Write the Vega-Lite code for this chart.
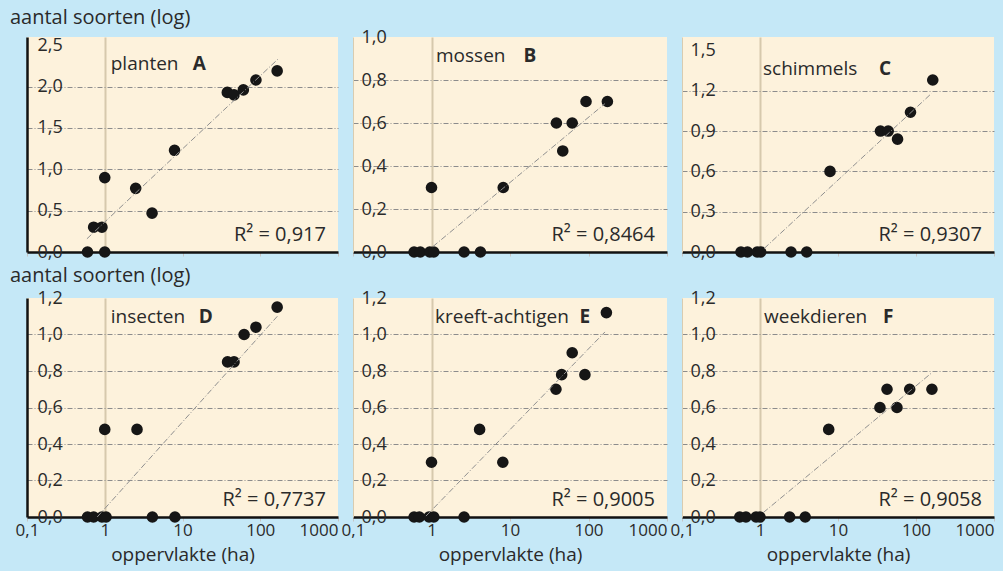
{
  "$schema": "https://vega.github.io/schema/vega-lite/v6.json",
  "background": "#c5e8f7",
  "padding": {"left": 10, "top": 8, "right": 9, "bottom": 9},
  "autosize": {"type": "pad"},
  "datasets": {
    "pts": [
      {"p":"A","x":0.6,"y":0},{"p":"A","x":1.0,"y":0},{"p":"A","x":0.72,"y":0.3},{"p":"A","x":0.92,"y":0.3},{"p":"A","x":1.0,"y":0.9},{"p":"A","x":2.5,"y":0.77},{"p":"A","x":4.06,"y":0.47},{"p":"A","x":7.9,"y":1.23},{"p":"A","x":37.7,"y":1.93},{"p":"A","x":46,"y":1.9},{"p":"A","x":60.6,"y":1.96},{"p":"A","x":88,"y":2.08},{"p":"A","x":165,"y":2.19},
      {"p":"B","x":0.6,"y":0},{"p":"B","x":0.72,"y":0},{"p":"B","x":0.95,"y":0},{"p":"B","x":1.07,"y":0},{"p":"B","x":2.6,"y":0},{"p":"B","x":4.2,"y":0},{"p":"B","x":1.0,"y":0.3},{"p":"B","x":8.2,"y":0.3},{"p":"B","x":39,"y":0.6},{"p":"B","x":47,"y":0.47},{"p":"B","x":62,"y":0.6},{"p":"B","x":93,"y":0.7},{"p":"B","x":174,"y":0.7},
      {"p":"C","x":0.57,"y":0},{"p":"C","x":0.69,"y":0},{"p":"C","x":0.92,"y":0},{"p":"C","x":1.02,"y":0},{"p":"C","x":2.5,"y":0},{"p":"C","x":3.97,"y":0},{"p":"C","x":7.9,"y":0.6},{"p":"C","x":35,"y":0.9},{"p":"C","x":44,"y":0.9},{"p":"C","x":58,"y":0.84},{"p":"C","x":85,"y":1.04},{"p":"C","x":164,"y":1.28},
      {"p":"D","x":0.6,"y":0},{"p":"D","x":0.72,"y":0},{"p":"D","x":0.92,"y":0},{"p":"D","x":1.04,"y":0},{"p":"D","x":4.1,"y":0},{"p":"D","x":8.0,"y":0},{"p":"D","x":1.0,"y":0.48},{"p":"D","x":2.6,"y":0.48},{"p":"D","x":38,"y":0.85},{"p":"D","x":46,"y":0.85},{"p":"D","x":62,"y":1.0},{"p":"D","x":88,"y":1.04},{"p":"D","x":165,"y":1.15},
      {"p":"E","x":0.6,"y":0},{"p":"E","x":0.7,"y":0},{"p":"E","x":0.93,"y":0},{"p":"E","x":1.07,"y":0},{"p":"E","x":2.6,"y":0},{"p":"E","x":1.0,"y":0.3},{"p":"E","x":4.1,"y":0.48},{"p":"E","x":8.1,"y":0.3},{"p":"E","x":38.5,"y":0.7},{"p":"E","x":45.5,"y":0.78},{"p":"E","x":62,"y":0.9},{"p":"E","x":90,"y":0.78},{"p":"E","x":169,"y":1.12},
      {"p":"F","x":0.55,"y":0},{"p":"F","x":0.66,"y":0},{"p":"F","x":0.89,"y":0},{"p":"F","x":1.0,"y":0},{"p":"F","x":2.4,"y":0},{"p":"F","x":3.8,"y":0},{"p":"F","x":7.6,"y":0.48},{"p":"F","x":34.5,"y":0.6},{"p":"F","x":42.5,"y":0.7},{"p":"F","x":57,"y":0.6},{"p":"F","x":83,"y":0.7},{"p":"F","x":160,"y":0.7}
    ],
    "fit": [
      {"p":"A","x":0.59,"y":0.16},{"p":"A","x":168,"y":2.33},
      {"p":"B","x":1.04,"y":0.025},{"p":"B","x":162,"y":0.69},
      {"p":"C","x":1.13,"y":0.026},{"p":"C","x":158,"y":1.18},
      {"p":"D","x":0.8,"y":0.0},{"p":"D","x":166,"y":1.1},
      {"p":"E","x":0.85,"y":0.005},{"p":"E","x":162,"y":1.014},
      {"p":"F","x":1.1,"y":0.024},{"p":"F","x":158,"y":0.789}
    ],
    "lbl": [
      {"p":"A","name":"planten","letter":"A","r2":"R² = 0,917"},
      {"p":"B","name":"mossen","letter":"B","r2":"R² = 0,8464"},
      {"p":"C","name":"schimmels","letter":"C","r2":"R² = 0,9307"},
      {"p":"D","name":"insecten","letter":"D","r2":"R² = 0,7737"},
      {"p":"E","name":"kreeft-achtigen","letter":"E","r2":"R² = 0,9005"},
      {"p":"F","name":"weekdieren","letter":"F","r2":"R² = 0,9058"}
    ]
  },
  "columns": 3,
  "spacing": {"row": 46, "column": 15},
  "bounds": "flush",
  "align": "each",
  "concat": [
    {
      "width": 311, "height": 215,
      "title": {"text": "aantal soorten (log)", "anchor": "start", "frame": "group", "dx": -17, "offset": -8, "baseline": "alphabetic"},
      "layer": [
        {"data": {"name": "pts"}, "transform": [{"filter": "datum.p === 'A'"}], "mark": {"type": "circle", "size": 135, "color": "#161616", "opacity": 1},
          "encoding": {
            "x": {"field": "x", "type": "quantitative", "scale": {"type": "log", "domain": [0.1, 1000]},
              "axis": {"values": [0.1, 1, 10, 100, 1000], "tickCount": 10, "labels": false, "title": null, "grid": true, "gridColor": {"condition": {"test": "datum.value == 1", "value": "#d6c9ad"}, "value": "transparent"}, "gridWidth": 2, "ticks": true, "tickSize": 4, "tickColor": "#c4c4c4", "domainColor": "#111111", "domainWidth": 2.5}},
            "y": {"field": "y", "type": "quantitative", "scale": {"domain": [0, 2.5]},
              "axis": {"values": [0, 0.5, 1, 1.5, 2, 2.5], "tickCount": 10, "labelExpr": "replace(format(datum.value, '.1f'), '.', ',')", "title": null, "grid": true, "gridColor": {"condition": {"test": "datum.value == 0 || datum.value == 2.5", "value": "transparent"}, "value": "#8c8c8c"}, "gridDash": [5, 2, 1, 2], "gridWidth": 1, "ticks": false, "tickSize": 0, "labelAlign": "left", "labelPadding": -10, "labelBaseline": "middle", "labelFlush": false, "labelBound": false, "labelOverlap": false, "domainColor": "#111111", "domainWidth": 2.5}}
          }},
        {"data": {"name": "fit"}, "transform": [{"filter": "datum.p === 'A'"}], "mark": {"type": "line", "color": "#8f8f8f", "strokeWidth": 1, "strokeDash": [6, 2, 1, 2]},
          "encoding": {"x": {"field": "x", "type": "quantitative"}, "y": {"field": "y", "type": "quantitative"}}},
        {"data": {"name": "lbl"}, "transform": [{"filter": "datum.p === 'A'"}], "mark": {"type": "text", "align": "left", "baseline": "top", "dx": 6, "dy": 10, "fontSize": 19}, "encoding": {"x": {"datum": 1}, "y": {"datum": 2.5}, "text": {"field": "name"}}},
        {"data": {"name": "lbl"}, "transform": [{"filter": "datum.p === 'A'"}], "mark": {"type": "text", "align": "left", "baseline": "top", "dx": 88, "dy": 10, "fontSize": 19, "fontWeight": "bold"}, "encoding": {"x": {"datum": 1}, "y": {"datum": 2.5}, "text": {"field": "letter"}}},
        {"data": {"name": "lbl"}, "transform": [{"filter": "datum.p === 'A'"}], "mark": {"type": "text", "align": "right", "baseline": "alphabetic", "dx": -12, "dy": -11, "fontSize": 20}, "encoding": {"x": {"datum": 1000}, "y": {"datum": 0}, "text": {"field": "r2"}}}
      ]
    },
    {
      "width": 314, "height": 215,
      "layer": [
        {"data": {"name": "pts"}, "transform": [{"filter": "datum.p === 'B'"}], "mark": {"type": "circle", "size": 135, "color": "#161616", "opacity": 1},
          "encoding": {
            "x": {"field": "x", "type": "quantitative", "scale": {"type": "log", "domain": [0.1, 1000]},
              "axis": {"values": [0.1, 1, 10, 100, 1000], "tickCount": 10, "labels": false, "title": null, "grid": true, "gridColor": {"condition": {"test": "datum.value == 1", "value": "#d6c9ad"}, "value": "transparent"}, "gridWidth": 2, "ticks": true, "tickSize": 4, "tickColor": "#c4c4c4", "domainColor": "#111111", "domainWidth": 2.5}},
            "y": {"field": "y", "type": "quantitative", "scale": {"domain": [0, 1]},
              "axis": {"values": [0, 0.2, 0.4, 0.6, 0.8, 1], "tickCount": 10, "labelExpr": "replace(format(datum.value, '.1f'), '.', ',')", "title": null, "grid": true, "gridColor": {"condition": {"test": "datum.value == 0 || datum.value == 1", "value": "transparent"}, "value": "#8c8c8c"}, "gridDash": [5, 2, 1, 2], "gridWidth": 1, "ticks": false, "tickSize": 0, "labelAlign": "left", "labelPadding": -8, "labelBaseline": "middle", "labelFlush": false, "labelBound": false, "labelOverlap": false, "domainColor": "#d9ccb0", "domainWidth": 1}}
          }},
        {"data": {"name": "fit"}, "transform": [{"filter": "datum.p === 'B'"}], "mark": {"type": "line", "color": "#8f8f8f", "strokeWidth": 1, "strokeDash": [6, 2, 1, 2]},
          "encoding": {"x": {"field": "x", "type": "quantitative"}, "y": {"field": "y", "type": "quantitative"}}},
        {"data": {"name": "lbl"}, "transform": [{"filter": "datum.p === 'B'"}], "mark": {"type": "text", "align": "left", "baseline": "top", "dx": 4.5, "dy": 10, "fontSize": 19}, "encoding": {"x": {"datum": 1}, "y": {"datum": 1}, "text": {"field": "name"}}},
        {"data": {"name": "lbl"}, "transform": [{"filter": "datum.p === 'B'"}], "mark": {"type": "text", "align": "left", "baseline": "top", "dx": 92, "dy": 10, "fontSize": 19, "fontWeight": "bold"}, "encoding": {"x": {"datum": 1}, "y": {"datum": 1}, "text": {"field": "letter"}}},
        {"data": {"name": "lbl"}, "transform": [{"filter": "datum.p === 'B'"}], "mark": {"type": "text", "align": "right", "baseline": "alphabetic", "dx": -12, "dy": -11, "fontSize": 20}, "encoding": {"x": {"datum": 1000}, "y": {"datum": 0}, "text": {"field": "r2"}}}
      ]
    },
    {
      "width": 312, "height": 215,
      "layer": [
        {"data": {"name": "pts"}, "transform": [{"filter": "datum.p === 'C'"}], "mark": {"type": "circle", "size": 135, "color": "#161616", "opacity": 1},
          "encoding": {
            "x": {"field": "x", "type": "quantitative", "scale": {"type": "log", "domain": [0.1, 1000]},
              "axis": {"values": [0.1, 1, 10, 100, 1000], "tickCount": 10, "labels": false, "title": null, "grid": true, "gridColor": {"condition": {"test": "datum.value == 1", "value": "#d6c9ad"}, "value": "transparent"}, "gridWidth": 2, "ticks": true, "tickSize": 4, "tickColor": "#c4c4c4", "domainColor": "#111111", "domainWidth": 2.5}},
            "y": {"field": "y", "type": "quantitative", "scale": {"domain": [0, 1.5]},
              "axis": {"values": [0, 0.3, 0.6, 0.9, 1.2, 1.5], "tickCount": 10, "labelExpr": "replace(format(datum.value, '.1f'), '.', ',')", "title": null, "grid": true, "gridColor": {"condition": {"test": "datum.value == 0 || datum.value == 1.5", "value": "transparent"}, "value": "#8c8c8c"}, "gridDash": [5, 2, 1, 2], "gridWidth": 1, "ticks": false, "tickSize": 0, "labelAlign": "left", "labelPadding": -8, "labelBaseline": "middle", "labelFlush": false, "labelBound": false, "labelOverlap": false, "domainColor": "#d9ccb0", "domainWidth": 1}}
          }},
        {"data": {"name": "fit"}, "transform": [{"filter": "datum.p === 'C'"}], "mark": {"type": "line", "color": "#8f8f8f", "strokeWidth": 1, "strokeDash": [6, 2, 1, 2]},
          "encoding": {"x": {"field": "x", "type": "quantitative"}, "y": {"field": "y", "type": "quantitative"}}},
        {"data": {"name": "lbl"}, "transform": [{"filter": "datum.p === 'C'"}], "mark": {"type": "text", "align": "left", "baseline": "top", "dx": 3, "dy": 10, "fontSize": 19}, "encoding": {"x": {"datum": 1}, "y": {"datum": 1.5}, "text": {"field": "name"}}},
        {"data": {"name": "lbl"}, "transform": [{"filter": "datum.p === 'C'"}], "mark": {"type": "text", "align": "left", "baseline": "top", "dx": 119, "dy": 10, "fontSize": 19, "fontWeight": "bold"}, "encoding": {"x": {"datum": 1}, "y": {"datum": 1.5}, "text": {"field": "letter"}}},
        {"data": {"name": "lbl"}, "transform": [{"filter": "datum.p === 'C'"}], "mark": {"type": "text", "align": "right", "baseline": "alphabetic", "dx": -12, "dy": -11, "fontSize": 20}, "encoding": {"x": {"datum": 1000}, "y": {"datum": 0}, "text": {"field": "r2"}}}
      ]
    },
    {
      "width": 311, "height": 219,
      "title": {"text": "aantal soorten (log)", "anchor": "start", "frame": "group", "dx": -17, "offset": -13, "baseline": "alphabetic"},
      "layer": [
        {"data": {"name": "pts"}, "transform": [{"filter": "datum.p === 'D'"}], "mark": {"type": "circle", "size": 135, "color": "#161616", "opacity": 1},
          "encoding": {
            "x": {"field": "x", "type": "quantitative", "scale": {"type": "log", "domain": [0.1, 1000]},
              "axis": {"values": [0.1, 1, 10, 100, 1000], "tickCount": 10, "labelExpr": "replace(format(datum.value, '~g'), '.', ',')", "labelAlign": {"condition": {"test": "datum.value >= 1000", "value": "right"}, "value": "center"}, "labelFlush": false, "labelBound": false, "labelOverlap": false, "labelPadding": 1, "title": "oppervlakte (ha)", "titlePadding": 7, "grid": true, "gridColor": {"condition": {"test": "datum.value == 1", "value": "#d6c9ad"}, "value": "transparent"}, "gridWidth": 2, "ticks": true, "tickSize": 4, "tickColor": "#c4c4c4", "domainColor": "#111111", "domainWidth": 2.5}},
            "y": {"field": "y", "type": "quantitative", "scale": {"domain": [0, 1.2]},
              "axis": {"values": [0, 0.2, 0.4, 0.6, 0.8, 1, 1.2], "tickCount": 10, "labelExpr": "replace(format(datum.value, '.1f'), '.', ',')", "title": null, "grid": true, "gridColor": {"condition": {"test": "datum.value == 0 || datum.value == 1.2", "value": "transparent"}, "value": "#8c8c8c"}, "gridDash": [5, 2, 1, 2], "gridWidth": 1, "ticks": false, "tickSize": 0, "labelAlign": "left", "labelPadding": -10, "labelBaseline": "middle", "labelFlush": false, "labelBound": false, "labelOverlap": false, "domainColor": "#111111", "domainWidth": 2.5}}
          }},
        {"data": {"name": "fit"}, "transform": [{"filter": "datum.p === 'D'"}], "mark": {"type": "line", "color": "#8f8f8f", "strokeWidth": 1, "strokeDash": [6, 2, 1, 2]},
          "encoding": {"x": {"field": "x", "type": "quantitative"}, "y": {"field": "y", "type": "quantitative"}}},
        {"data": {"name": "lbl"}, "transform": [{"filter": "datum.p === 'D'"}], "mark": {"type": "text", "align": "left", "baseline": "top", "dx": 6, "dy": 10, "fontSize": 19}, "encoding": {"x": {"datum": 1}, "y": {"datum": 1.2}, "text": {"field": "name"}}},
        {"data": {"name": "lbl"}, "transform": [{"filter": "datum.p === 'D'"}], "mark": {"type": "text", "align": "left", "baseline": "top", "dx": 94, "dy": 10, "fontSize": 19, "fontWeight": "bold"}, "encoding": {"x": {"datum": 1}, "y": {"datum": 1.2}, "text": {"field": "letter"}}},
        {"data": {"name": "lbl"}, "transform": [{"filter": "datum.p === 'D'"}], "mark": {"type": "text", "align": "right", "baseline": "alphabetic", "dx": -12, "dy": -11, "fontSize": 20}, "encoding": {"x": {"datum": 1000}, "y": {"datum": 0}, "text": {"field": "r2"}}}
      ]
    },
    {
      "width": 314, "height": 219,
      "layer": [
        {"data": {"name": "pts"}, "transform": [{"filter": "datum.p === 'E'"}], "mark": {"type": "circle", "size": 135, "color": "#161616", "opacity": 1},
          "encoding": {
            "x": {"field": "x", "type": "quantitative", "scale": {"type": "log", "domain": [0.1, 1000]},
              "axis": {"values": [0.1, 1, 10, 100, 1000], "tickCount": 10, "labelExpr": "replace(format(datum.value, '~g'), '.', ',')", "labelAlign": {"condition": {"test": "datum.value >= 1000", "value": "right"}, "value": "center"}, "labelFlush": false, "labelBound": false, "labelOverlap": false, "labelPadding": 1, "title": "oppervlakte (ha)", "titlePadding": 7, "grid": true, "gridColor": {"condition": {"test": "datum.value == 1", "value": "#d6c9ad"}, "value": "transparent"}, "gridWidth": 2, "ticks": true, "tickSize": 4, "tickColor": "#c4c4c4", "domainColor": "#111111", "domainWidth": 2.5}},
            "y": {"field": "y", "type": "quantitative", "scale": {"domain": [0, 1.2]},
              "axis": {"values": [0, 0.2, 0.4, 0.6, 0.8, 1, 1.2], "tickCount": 10, "labelExpr": "replace(format(datum.value, '.1f'), '.', ',')", "title": null, "grid": true, "gridColor": {"condition": {"test": "datum.value == 0 || datum.value == 1.2", "value": "transparent"}, "value": "#8c8c8c"}, "gridDash": [5, 2, 1, 2], "gridWidth": 1, "ticks": false, "tickSize": 0, "labelAlign": "left", "labelPadding": -8, "labelBaseline": "middle", "labelFlush": false, "labelBound": false, "labelOverlap": false, "domainColor": "#d9ccb0", "domainWidth": 1}}
          }},
        {"data": {"name": "fit"}, "transform": [{"filter": "datum.p === 'E'"}], "mark": {"type": "line", "color": "#8f8f8f", "strokeWidth": 1, "strokeDash": [6, 2, 1, 2]},
          "encoding": {"x": {"field": "x", "type": "quantitative"}, "y": {"field": "y", "type": "quantitative"}}},
        {"data": {"name": "lbl"}, "transform": [{"filter": "datum.p === 'E'"}], "mark": {"type": "text", "align": "left", "baseline": "top", "dx": 3.5, "dy": 10, "fontSize": 19}, "encoding": {"x": {"datum": 1}, "y": {"datum": 1.2}, "text": {"field": "name"}}},
        {"data": {"name": "lbl"}, "transform": [{"filter": "datum.p === 'E'"}], "mark": {"type": "text", "align": "left", "baseline": "top", "dx": 148, "dy": 10, "fontSize": 19, "fontWeight": "bold"}, "encoding": {"x": {"datum": 1}, "y": {"datum": 1.2}, "text": {"field": "letter"}}},
        {"data": {"name": "lbl"}, "transform": [{"filter": "datum.p === 'E'"}], "mark": {"type": "text", "align": "right", "baseline": "alphabetic", "dx": -12, "dy": -11, "fontSize": 20}, "encoding": {"x": {"datum": 1000}, "y": {"datum": 0}, "text": {"field": "r2"}}}
      ]
    },
    {
      "width": 312, "height": 219,
      "layer": [
        {"data": {"name": "pts"}, "transform": [{"filter": "datum.p === 'F'"}], "mark": {"type": "circle", "size": 135, "color": "#161616", "opacity": 1},
          "encoding": {
            "x": {"field": "x", "type": "quantitative", "scale": {"type": "log", "domain": [0.1, 1000]},
              "axis": {"values": [0.1, 1, 10, 100, 1000], "tickCount": 10, "labelExpr": "replace(format(datum.value, '~g'), '.', ',')", "labelAlign": {"condition": {"test": "datum.value >= 1000", "value": "right"}, "value": "center"}, "labelFlush": false, "labelBound": false, "labelOverlap": false, "labelPadding": 1, "title": "oppervlakte (ha)", "titlePadding": 7, "grid": true, "gridColor": {"condition": {"test": "datum.value == 1", "value": "#d6c9ad"}, "value": "transparent"}, "gridWidth": 2, "ticks": true, "tickSize": 4, "tickColor": "#c4c4c4", "domainColor": "#111111", "domainWidth": 2.5}},
            "y": {"field": "y", "type": "quantitative", "scale": {"domain": [0, 1.2]},
              "axis": {"values": [0, 0.2, 0.4, 0.6, 0.8, 1, 1.2], "tickCount": 10, "labelExpr": "replace(format(datum.value, '.1f'), '.', ',')", "title": null, "grid": true, "gridColor": {"condition": {"test": "datum.value == 0 || datum.value == 1.2", "value": "transparent"}, "value": "#8c8c8c"}, "gridDash": [5, 2, 1, 2], "gridWidth": 1, "ticks": false, "tickSize": 0, "labelAlign": "left", "labelPadding": -8, "labelBaseline": "middle", "labelFlush": false, "labelBound": false, "labelOverlap": false, "domainColor": "#d9ccb0", "domainWidth": 1}}
          }},
        {"data": {"name": "fit"}, "transform": [{"filter": "datum.p === 'F'"}], "mark": {"type": "line", "color": "#8f8f8f", "strokeWidth": 1, "strokeDash": [6, 2, 1, 2]},
          "encoding": {"x": {"field": "x", "type": "quantitative"}, "y": {"field": "y", "type": "quantitative"}}},
        {"data": {"name": "lbl"}, "transform": [{"filter": "datum.p === 'F'"}], "mark": {"type": "text", "align": "left", "baseline": "top", "dx": 4, "dy": 10, "fontSize": 19}, "encoding": {"x": {"datum": 1}, "y": {"datum": 1.2}, "text": {"field": "name"}}},
        {"data": {"name": "lbl"}, "transform": [{"filter": "datum.p === 'F'"}], "mark": {"type": "text", "align": "left", "baseline": "top", "dx": 123, "dy": 10, "fontSize": 19, "fontWeight": "bold"}, "encoding": {"x": {"datum": 1}, "y": {"datum": 1.2}, "text": {"field": "letter"}}},
        {"data": {"name": "lbl"}, "transform": [{"filter": "datum.p === 'F'"}], "mark": {"type": "text", "align": "right", "baseline": "alphabetic", "dx": -12, "dy": -11, "fontSize": 20}, "encoding": {"x": {"datum": 1000}, "y": {"datum": 0}, "text": {"field": "r2"}}}
      ]
    }
  ],
  "config": {
    "font": "Open Sans",
    "view": {"fill": "#fdf2dc", "stroke": null},
    "title": {"fontSize": 20, "fontWeight": "normal", "font": "Open Sans", "color": "#2a2a2a"},
    "text": {"font": "Open Sans", "color": "#2a2a2a"},
    "axis": {"labelFont": "Open Sans", "labelFontSize": 17, "labelColor": "#2a2a2a", "titleFont": "Open Sans", "titleFontSize": 19, "titleFontWeight": "normal", "titleColor": "#2a2a2a"},
    "axisY": {"labelFontSize": 18}
  }
}
